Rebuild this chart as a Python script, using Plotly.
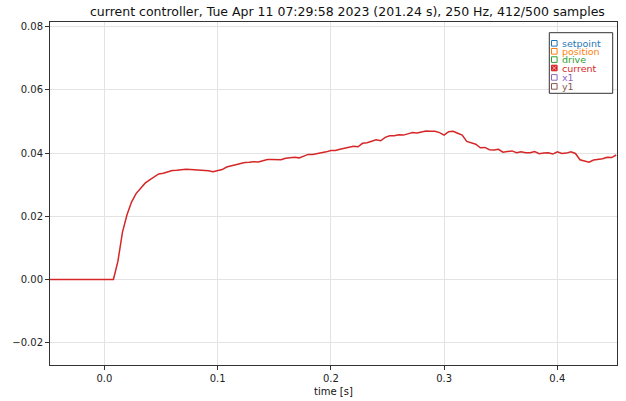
import plotly.graph_objects as go

# Sampling: 250 Hz, first sample 12 samples before the trigger
SAMPLE_RATE = 250
PRE_TRIGGER = 12

# Measured motor current (one value per sample)
current = [
    0.0, 0.0, 0.0, 0.0, 0.0, 0.0, 0.0, 0.0, 0.0, 0.0, 0.0, 0.0, 0.0, 0.0, 0.0,
    0.0058, 0.0150, 0.0205, 0.0245, 0.0272, 0.0287, 0.0305, 0.0315, 0.0324, 0.0334,
    0.0336, 0.0341, 0.0345, 0.0346, 0.0348, 0.0349, 0.0348, 0.0347, 0.0346, 0.0347,
    0.0344, 0.0341, 0.0345, 0.0348, 0.0356, 0.0360, 0.0363, 0.0366, 0.0370, 0.0371,
    0.0373, 0.0372, 0.0377, 0.0380, 0.0380, 0.0379, 0.0379, 0.0384, 0.0386, 0.0387,
    0.0385, 0.0390, 0.0396, 0.0396, 0.0398, 0.0400, 0.0404, 0.0408, 0.0408, 0.0412,
    0.0415, 0.0418, 0.0422, 0.0420, 0.0431, 0.0433, 0.0437, 0.0442, 0.0439, 0.0450,
    0.0455, 0.0455, 0.0458, 0.0457, 0.0461, 0.0465, 0.0464, 0.0467, 0.0470, 0.0469,
    0.0469, 0.0465, 0.0457, 0.0468, 0.0469, 0.0463, 0.0457, 0.0437, 0.0432, 0.0428,
    0.0417, 0.0418, 0.0411, 0.0410, 0.0412, 0.0403, 0.0405, 0.0407, 0.0401, 0.0404,
    0.0401, 0.0401, 0.0405, 0.0398, 0.0400, 0.0401, 0.0397, 0.0404, 0.0399, 0.0400,
    0.0404, 0.0399, 0.0379, 0.0374, 0.0371, 0.0378, 0.0380, 0.0382, 0.0387, 0.0386,
    0.0394,
]
time = [(i - PRE_TRIGGER) / SAMPLE_RATE for i in range(len(current))]

# Legend entries (only "current" is plotted)
series_names = ["setpoint", "position", "drive", "current", "x1", "y1"]
series_colors = ["#1f77b4", "#ff7f0e", "#2ca02c", "#d62728", "#9467bd", "#8c564b"]
shown = [False, False, False, True, False, False]

x_ticks = [0.0, 0.1, 0.2, 0.3, 0.4]
x_tick_text = ["0.0", "0.1", "0.2", "0.3", "0.4"]
y_ticks = [-0.02, 0.0, 0.02, 0.04, 0.06, 0.08]
y_tick_text = ["\u22120.02", "0.00", "0.02", "0.04", "0.06", "0.08"]

title = "current controller, Tue Apr 11 07:29:58 2023 (201.24 s), 250 Hz, 412/500 samples"
x_label = "time [s]"

W, H = 626, 401
L, R, T, B = 50, 617, 22, 365
FONT = "DejaVu Sans"

fig = go.Figure()
fig.add_trace(go.Scatter(
    x=time, y=current, mode="lines",
    line=dict(color="#d62728", width=1.5),
    showlegend=False, hoverinfo="skip",
))

axis_common = dict(
    showline=True, mirror=True, linecolor="#333333", linewidth=1,
    ticks="outside", ticklen=4, tickwidth=1, tickcolor="#333333",
    showgrid=True, gridcolor="#e3e3e3", gridwidth=1,
    zeroline=False, automargin=False,
    tickfont=dict(family=FONT, size=10, color="#222222"),
)

fig.update_layout(
    width=W, height=H,
    margin=dict(l=L, r=W - R, t=T, b=H - B),
    paper_bgcolor="white", plot_bgcolor="white",
    font=dict(family=FONT, color="#111111"),
    xaxis=dict(range=[-0.048, 0.4527], tickvals=x_ticks, ticktext=x_tick_text,
               **axis_common),
    yaxis=dict(range=[-0.02706, 0.0815], tickvals=y_ticks, ticktext=y_tick_text,
               **axis_common),
    showlegend=False,
)


def px(xp):
    return (xp - L) / (R - L)


def py(yp):
    return (B - yp) / (B - T)


# Title and x-axis label
fig.add_annotation(
    text=title, xref="paper", yref="paper",
    x=px(347), y=py(11.5),
    xanchor="center", yanchor="middle", showarrow=False,
    font=dict(family=FONT, size=12.5, color="#111111"),
)
fig.add_annotation(
    text=x_label, xref="paper", yref="paper",
    x=px(333), y=py(391.5),
    xanchor="center", yanchor="middle", showarrow=False,
    font=dict(family=FONT, size=10, color="#111111"),
)

# Legend frame
box = dict(x0=549.3, x1=612.7, y0=32.7, y1=93.3)
fig.add_shape(type="rect", xref="paper", yref="paper",
              x0=px(box["x0"]), x1=px(box["x1"]), y0=py(box["y1"]), y1=py(box["y0"]),
              line=dict(color="#333333", width=1), fillcolor="white", layer="above")

row_y = [43.3, 51.3, 59.6, 68.0, 77.4, 86.4]
mx, ms = 554.3, 2.8
for name, color, on, yy in zip(series_names, series_colors, shown, row_y):
    fig.add_shape(type="rect", xref="paper", yref="paper",
                  x0=px(mx - ms), x1=px(mx + ms), y0=py(yy + ms), y1=py(yy - ms),
                  line=dict(color=color, width=1),
                  fillcolor=color if on else "white", layer="above")
    if on:
        for a, b in [((-ms + 1, -ms + 1), (ms - 1, ms - 1)), ((-ms + 1, ms - 1), (ms - 1, -ms + 1))]:
            fig.add_shape(type="line", xref="paper", yref="paper",
                          x0=px(mx + a[0]), y0=py(yy + a[1]), x1=px(mx + b[0]), y1=py(yy + b[1]),
                          line=dict(color="#f4b0b0", width=1), layer="above")
    fig.add_annotation(text=name, xref="paper", yref="paper",
                       x=px(561.0), y=py(yy), xanchor="left", yanchor="middle",
                       showarrow=False, borderpad=0,
                       font=dict(family=FONT, size=9.5, color=color))

fig.write_html("out.html")
